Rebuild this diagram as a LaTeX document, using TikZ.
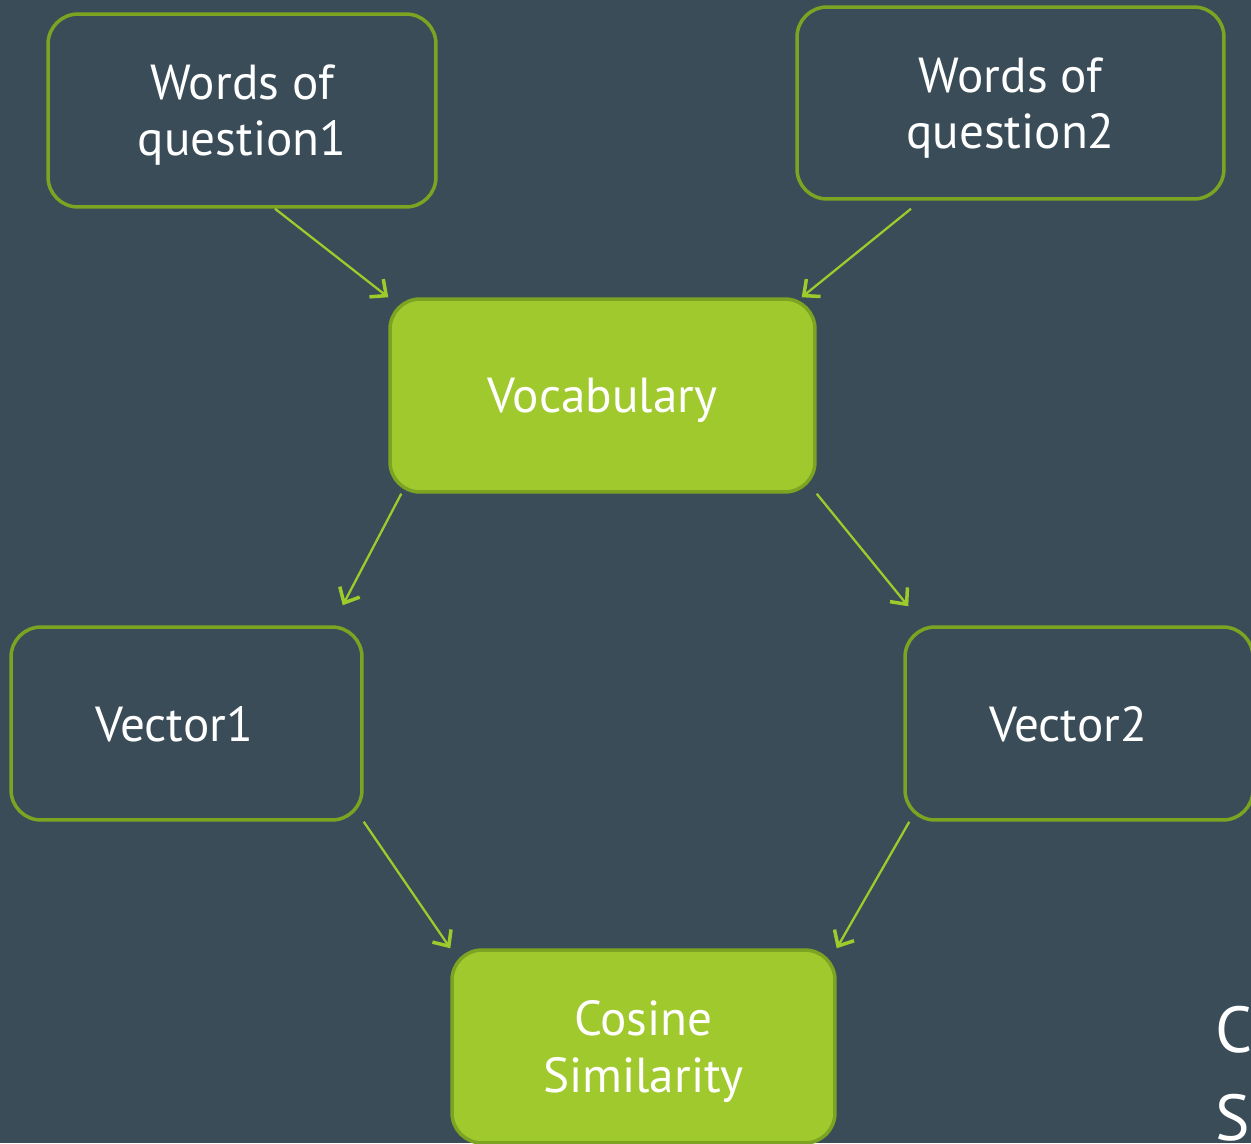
\documentclass[tikz,border=0pt]{standalone}
\usepackage{fontspec}
\setmainfont{PT Sans}
\usetikzlibrary{arrows.meta}
\definecolor{slate}{HTML}{394C57}
\definecolor{leaf}{HTML}{A0C92E}
\definecolor{leafdark}{HTML}{7DA322}
\definecolor{shoot}{HTML}{9DCB2C}
\begin{document}
\begin{tikzpicture}
[x=0.02cm,y=-0.02cm,%
  every node/.style={text=white,align=center,inner sep=0pt,font=\fontsize{28}{32}\selectfont},%
  box/.style={draw=leafdark,line width=2pt,rounded corners=0.6cm,minimum height=3.86cm,text depth=0pt},%
  keybox/.style={box,fill=leaf},%
  link/.style={shoot,line width=1.3pt,-{Straight Barb[length=0.25cm,width=0.45cm,line width=2pt]}}]
\useasboundingbox (0,0) rectangle (1251,1143);
\fill[slate] (0,0) rectangle (1251,1143);
\clip (0,0) rectangle (1251,1143);
\node[box,minimum width=7.76cm] (q1) at (242,110.5) {Words of\\question1};
\node[box,minimum width=8.54cm,minimum height=3.84cm] (q2) at (1010.5,103) {Words of\\question2};
\node[keybox,minimum width=8.5cm] (vocab) at (602.5,395.5) {Vocabulary};
\node[box,minimum width=7.02cm] (v1) at (186.5,723.5) {Vector1\hspace{0.5cm}};
\node[box,minimum width=6.96cm] (v2) at (1079,723.5) {Vector2\hspace{0.44cm}};
\node[keybox,minimum width=7.66cm] (cos) at (643.5,1046.5) {Cosine\\Similarity};
\node[anchor=north west,align=left,font=\fontsize{37}{50}\selectfont] (title) at (1215,1006) {Cosine\\Similarity};
\draw[link] ([xshift=0.66cm]q1.south) -- (vocab.north west);
\draw[link] ([xshift=-1.99cm,yshift=-0.16cm]q2.south) -- ([xshift=-0.3cm]vocab.north east);
\draw[link] ([xshift=0.26cm]vocab.south west) -- ([xshift=-0.42cm,yshift=0.4cm]v1.north east);
\draw[link] (vocab.south east) -- ([xshift=0.1cm,yshift=0.38cm]v2.north west);
\draw[link] (v1.south east) -- (cos.north west);
\draw[link] ([xshift=0.12cm]v2.south west) -- (cos.north east);
\end{tikzpicture}
\end{document}
